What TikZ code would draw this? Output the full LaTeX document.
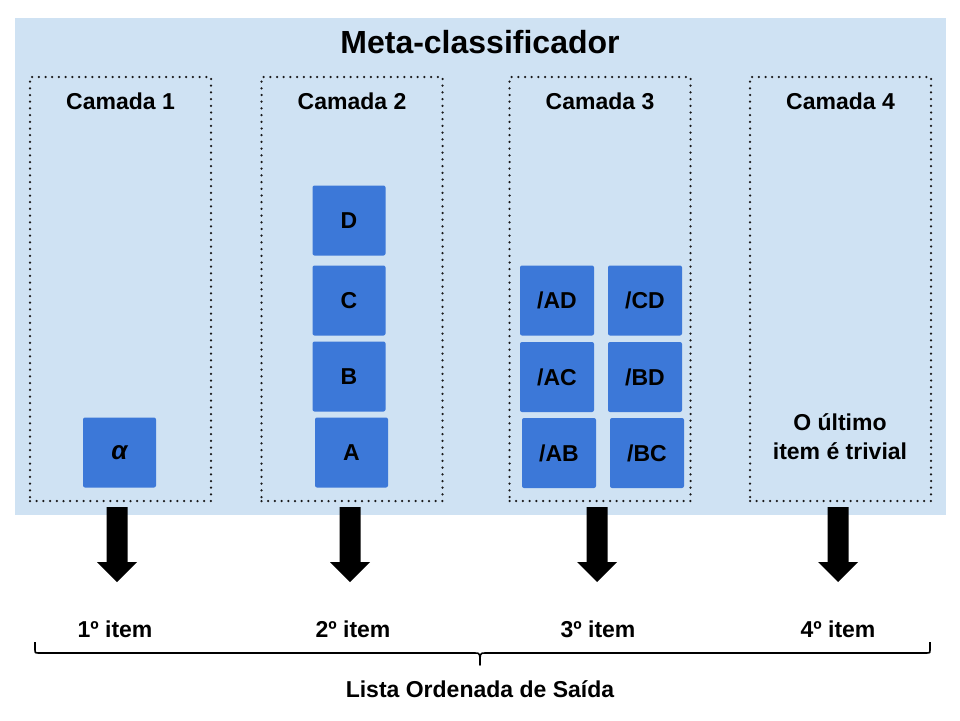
\documentclass[tikz,border=0pt]{standalone}
\usepackage{fontspec}
\setmainfont{Liberation Sans}
\definecolor{bgblue}{HTML}{CFE2F3}
\definecolor{boxblue}{HTML}{3C78D8}
\begin{document}
\begin{tikzpicture}[x=1pt,y=-1pt,
  txt/.style={font=\fontsize{23}{29}\selectfont\bfseries, inner sep=0pt},
  layerbox/.style={draw=black!90, line width=2.5pt, dash pattern=on 0pt off 6.7pt, line cap=round, minimum width=181pt, minimum height=424pt, inner sep=0pt},
  itembox/.style={fill=boxblue, rounded corners=2pt, minimum width=73pt, minimum height=70pt, inner sep=0pt, font=\fontsize{23}{27}\selectfont\bfseries},
  blockarrow/.pic={\fill[black] (-10.5,0) -- (10.5,0) -- (10.5,55) -- (20,55) -- (0,75) -- (-20,55) -- (-10.5,55) -- cycle;}
]
\useasboundingbox (0,0) rectangle (960,720);
% background
\node[fill=bgblue, minimum width=931pt, minimum height=497pt, inner sep=0pt] (meta) at (480.5,266.5) {};
\node[font=\fontsize{32}{36}\selectfont\bfseries, inner sep=0pt] (title) at (480,42) {Meta-classificador};
% layers
\node[layerbox] (L1) at (120.5,289) {};
\node[layerbox] (L2) at (352,289) {};
\node[layerbox] (L3) at (600,289) {};
\node[layerbox] (L4) at (840.5,289) {};
\node[txt] (t1) at (120.5,101) {Camada 1};
\node[txt] (t2) at (352,101) {Camada 2};
\node[txt] (t3) at (600,101) {Camada 3};
\node[txt] (t4) at (840.5,101) {Camada 4};
% layer 1
\node[itembox] (alpha) at (119.5,452.5) {\fontsize{26}{27}\selectfont\itshape α};
% layer 2
\node[itembox] (D) at (349,220.5) {D};
\node[itembox] (C) at (349,300.5) {C};
\node[itembox] (B) at (349,376.5) {B};
\node[itembox] (A) at (351.5,452.5) {A};
% layer 3
\node[itembox, minimum width=74pt] (AD) at (557,300.5) {/AD};
\node[itembox, minimum width=74pt] (CD) at (645,300.5) {/CD};
\node[itembox, minimum width=74pt] (AC) at (557,377) {/AC};
\node[itembox, minimum width=74pt] (BD) at (645,377) {/BD};
\node[itembox, minimum width=74pt] (AB) at (559,453) {/AB};
\node[itembox, minimum width=74pt] (BC) at (647,453) {/BC};
% layer 4
\node[txt, align=center] (triv) at (840,437) {O último\\item é trivial};
% arrows
\pic at (117,507) {blockarrow};
\pic at (350,507) {blockarrow};
\pic at (597,507) {blockarrow};
\pic at (838,507) {blockarrow};
% output items
\node[txt] (i1) at (115,629) {1º item};
\node[txt] (i2) at (353,629) {2º item};
\node[txt] (i3) at (598,629) {3º item};
\node[txt] (i4) at (838,629) {4º item};
% brace
\coordinate (bl) at (35,642);
\coordinate (br) at (930,642);
\coordinate (bt) at (480,665);
\draw[line width=1.6pt, line join=round] (bl) -- (35,650) .. controls (35,653) .. (38,653) -- (475,653) .. controls (480,653) .. (bt)
  .. controls (480,653) .. (485,653) -- (927,653) .. controls (930,653) .. (930,650) -- (br);
\node[txt] (out) at (480,689) {Lista Ordenada de Saída};
\end{tikzpicture}
\end{document}
